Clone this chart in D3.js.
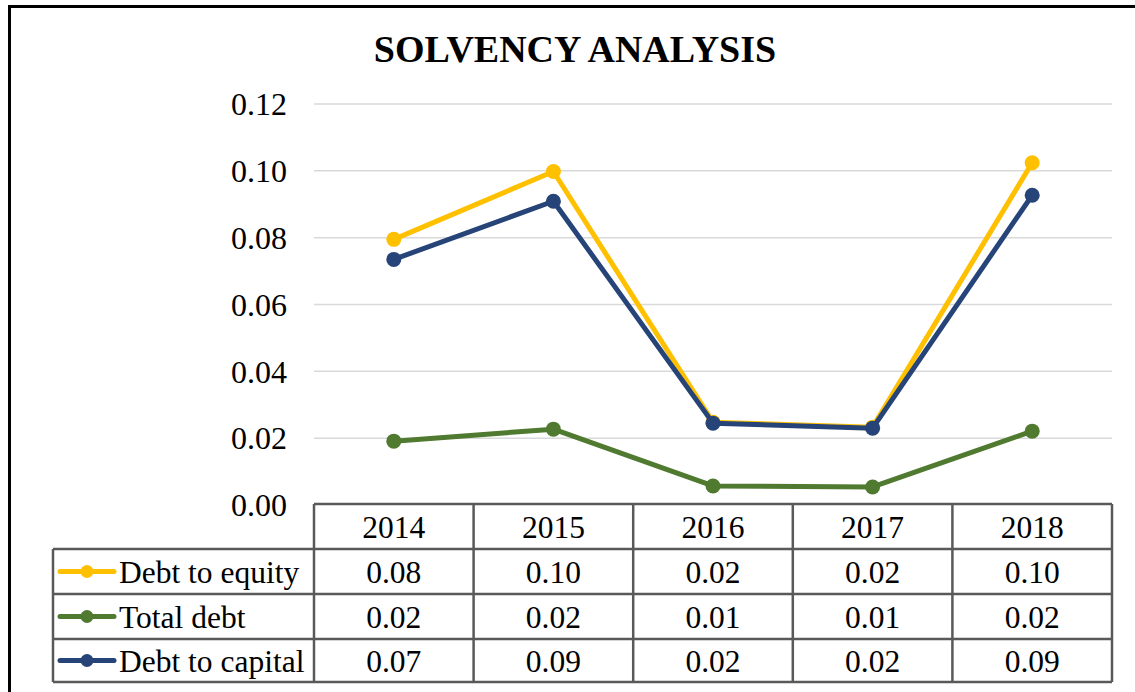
<!DOCTYPE html>
<html>
<head>
<meta charset="utf-8">
<script src="https://cdn.jsdelivr.net/npm/d3@7"></script>
<style>
  body { margin: 0; background: #fff; }
  svg text { font-family: "Liberation Serif", "Times New Roman", serif; fill: #000; }
</style>
</head>
<body>
<svg id="chart" width="1135" height="692"></svg>
<script>
// data
var years = ["2014", "2015", "2016", "2017", "2018"];
var debtToEquity = [0.0795, 0.0998, 0.0248, 0.0233, 0.1024];
var totalDebt = [0.0191, 0.0227, 0.0057, 0.0054, 0.0221];
var debtToCapital = [0.0735, 0.0909, 0.0245, 0.0230, 0.0927];
var yTicks = [0, 0.02, 0.04, 0.06, 0.08, 0.10, 0.12];

var series = [
  { name: "Debt to equity", values: debtToEquity, color: "#FFC000" },
  { name: "Total debt", values: totalDebt, color: "#4F7A2F" },
  { name: "Debt to capital", values: debtToCapital, color: "#264478" }
];

var svg = d3.select("#chart");

// outer frame
svg.append("rect")
  .attr("x", 9.5).attr("y", 6.5)
  .attr("width", 1140).attr("height", 700)
  .attr("fill", "none").attr("stroke", "#000").attr("stroke-width", 3);

svg.append("text")
  .attr("x", 575).attr("y", 62)
  .attr("text-anchor", "middle")
  .style("font-size", "38px").style("font-weight", "bold")
  .text("SOLVENCY ANALYSIS");

var plotLeft = 314, plotRight = 1112, plotTop = 104, plotBottom = 505;

var x = d3.scaleBand().domain(years).range([plotLeft, plotRight]);
var y = d3.scaleLinear().domain([0, 0.12]).range([plotBottom, plotTop]);

// gridlines
svg.append("g").selectAll("line")
  .data(yTicks.slice(1))
  .join("line")
  .attr("x1", plotLeft).attr("x2", plotRight)
  .attr("y1", function(d){ return y(d); }).attr("y2", function(d){ return y(d); })
  .attr("stroke", "#d9d9d9").attr("stroke-width", 1.5);

// y labels
svg.append("g").selectAll("text")
  .data(yTicks)
  .join("text")
  .attr("x", 287)
  .attr("y", function(d){ return y(d); })
  .attr("dy", "0.35em")
  .attr("text-anchor", "end")
  .style("font-size", "32px")
  .text(function(d){ return d.toFixed(2); });

var line = d3.line()
  .x(function(d, i){ return x(years[i]) + x.bandwidth() / 2; })
  .y(function(d){ return y(d); });

// draw total debt first, then equity, then capital on top
[series[1], series[0], series[2]].forEach(function(s){
  var g = svg.append("g");
  g.append("path")
    .attr("d", line(s.values))
    .attr("fill", "none")
    .attr("stroke", s.color)
    .attr("stroke-width", 5)
    .attr("stroke-linejoin", "round");
  g.selectAll("circle")
    .data(s.values)
    .join("circle")
    .attr("cx", function(d, i){ return x(years[i]) + x.bandwidth() / 2; })
    .attr("cy", function(d){ return y(d); })
    .attr("r", 7.5)
    .attr("fill", s.color);
});

// data table
var rowEdges = [504, 549, 594, 639, 682];
var tableLeft = 53;
var grid = svg.append("g").attr("stroke", "#595959").attr("stroke-width", 2.5).attr("fill", "none");

// header row (years only)
grid.append("line").attr("x1", plotLeft).attr("x2", plotRight).attr("y1", rowEdges[0]).attr("y2", rowEdges[0]);
rowEdges.slice(1).forEach(function(ry){
  grid.append("line").attr("x1", tableLeft).attr("x2", plotRight).attr("y1", ry).attr("y2", ry);
});
// vertical lines
years.forEach(function(yr){
  grid.append("line").attr("x1", x(yr)).attr("x2", x(yr)).attr("y1", rowEdges[0]).attr("y2", rowEdges[4]);
});
grid.append("line").attr("x1", plotRight).attr("x2", plotRight).attr("y1", rowEdges[0]).attr("y2", rowEdges[4]);
grid.append("line").attr("x1", tableLeft).attr("x2", tableLeft).attr("y1", rowEdges[1]).attr("y2", rowEdges[4]);

// header text
svg.append("g").selectAll("text")
  .data(years)
  .join("text")
  .attr("x", function(d){ return x(d) + x.bandwidth() / 2; })
  .attr("y", (rowEdges[0] + rowEdges[1]) / 2)
  .attr("dy", "0.35em")
  .attr("text-anchor", "middle")
  .style("font-size", "31.5px")
  .text(function(d){ return d; });

series.forEach(function(s, r){
  var cy = (rowEdges[r + 1] + rowEdges[r + 2]) / 2;
  var key = svg.append("g");
  key.append("line")
    .attr("x1", 60).attr("x2", 114)
    .attr("y1", cy).attr("y2", cy)
    .attr("stroke", s.color).attr("stroke-width", 5).attr("stroke-linecap", "round");
  key.append("circle").attr("cx", 87).attr("cy", cy).attr("r", 6.5).attr("fill", s.color);
  svg.append("text")
    .attr("x", 119).attr("y", cy)
    .attr("dy", "0.35em")
    .style("font-size", "31.5px")
    .text(s.name);
  svg.append("g").selectAll("text")
    .data(s.values)
    .join("text")
    .attr("x", function(d, i){ return x(years[i]) + x.bandwidth() / 2; })
    .attr("y", cy)
    .attr("dy", "0.35em")
    .attr("text-anchor", "middle")
    .style("font-size", "31.5px")
    .text(function(d){ return d.toFixed(2); });
});
</script>
</body>
</html>
